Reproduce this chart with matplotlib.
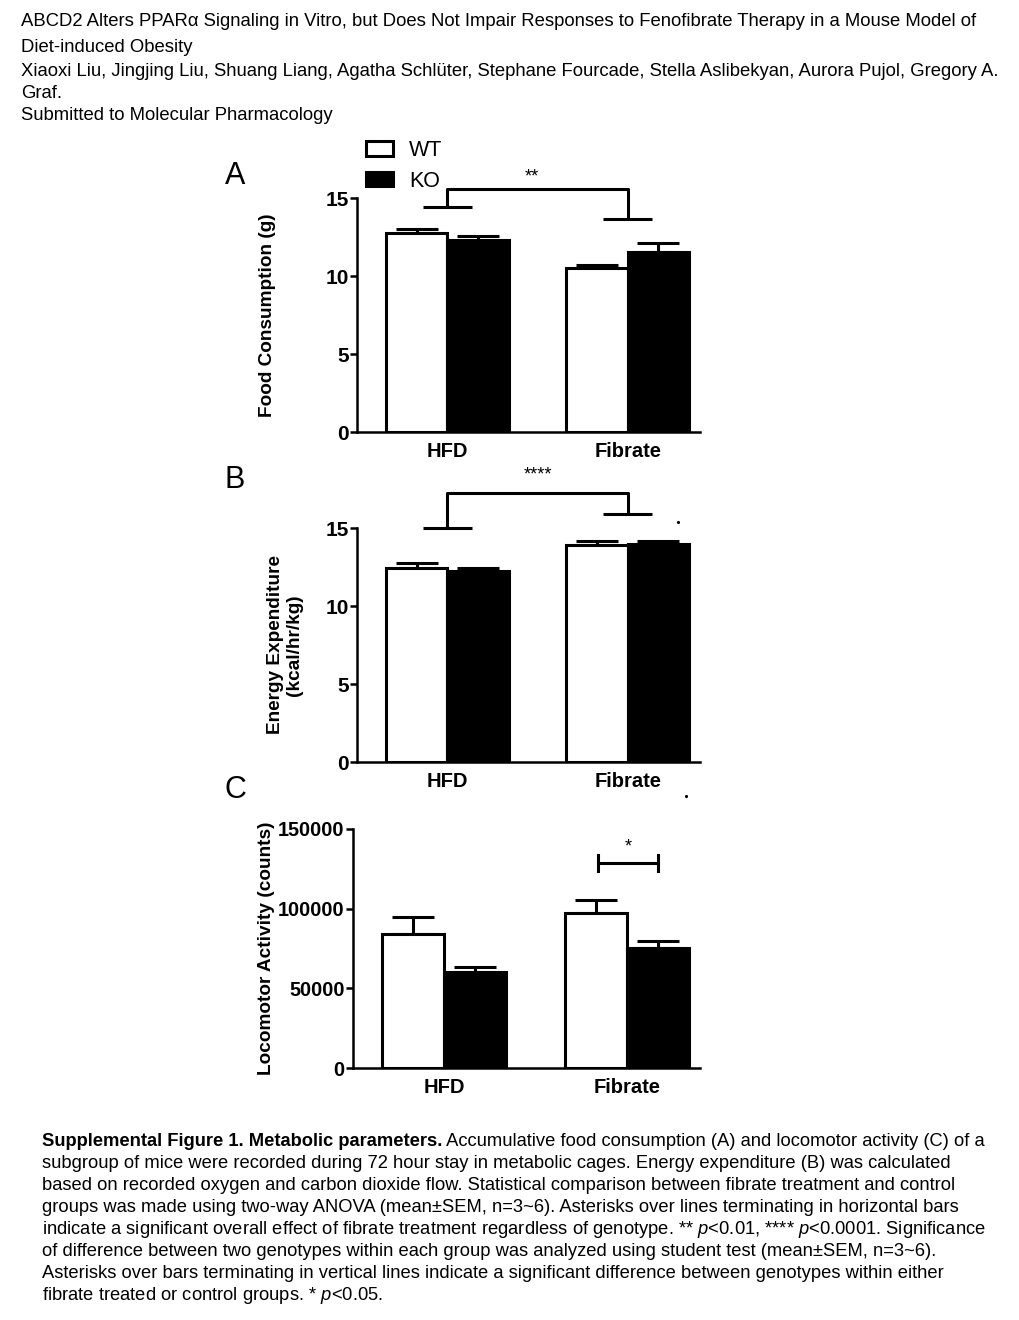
import matplotlib
matplotlib.use('Agg')
import matplotlib.pyplot as plt
import numpy as np
from matplotlib.patches import Patch

plt.rcParams['font.family'] = ['Liberation Sans', 'DejaVu Sans']
plt.rcParams['mathtext.fontset'] = 'custom'
plt.rcParams['mathtext.rm'] = 'Liberation Sans'
plt.rcParams['mathtext.it'] = 'Liberation Sans:italic'
plt.rcParams['mathtext.bf'] = 'Liberation Sans:bold'

# data
groups = ['HFD', 'Fibrate']
food_wt = [12.75, 10.5]
food_wt_err = [0.25, 0.22]
food_ko = [12.3, 11.55]
food_ko_err = [0.27, 0.55]
energy_wt = [12.45, 13.9]
energy_wt_err = [0.3, 0.25]
energy_ko = [12.25, 13.95]
energy_ko_err = [0.2, 0.2]
loco_wt = [84000, 97500]
loco_wt_err = [10500, 8000]
loco_ko = [60500, 75300]
loco_ko_err = [3000, 4500]

W, H = 1020, 1320
fig = plt.figure(figsize=(W / 100, H / 100), dpi=100)


def fx(x):
    return x / W


def fy(y):
    return 1 - y / H


def axes_px(left, right, top, bottom):
    return fig.add_axes([fx(left), fy(bottom), (right - left) / W, (bottom - top) / H])


header = ["ABCD2 Alters PPAR\u03b1 Signaling in Vitro, but Does Not Impair Responses to Fenofibrate Therapy in a Mouse Model of",
          "Diet-induced Obesity",
          "Xiaoxi Liu, Jingjing Liu, Shuang Liang, Agatha Schl\u00fcter, Stephane Fourcade, Stella Aslibekyan, Aurora Pujol, Gregory A.",
          "Graf.",
          "Submitted to Molecular Pharmacology"]
header_y = [21, 48, 71, 94, 116]
for t, y in zip(header, header_y):
    fig.text(fx(21), fy(y), t, fontsize=13.3, va='center', ha='left')

cap_fs = 13.25
cap_bold = "Supplemental Figure 1. Metabolic parameters."
caption = [" Accumulative food consumption (A) and locomotor activity (C) of a",
           "subgroup of mice were recorded during 72 hour stay in metabolic cages. Energy expenditure (B) was calculated",
           "based on recorded oxygen and carbon dioxide flow. Statistical comparison between fibrate treatment and control",
           "groups was made using two-way ANOVA (mean\u00b1SEM, n=3~6). Asterisks over lines terminating in horizontal bars",
           r"indicate a significant overall effect of fibrate treatment regardless of genotype. ** $\it{p}$<0.01, **** $\it{p}$<0.0001. Significance",
           "of difference between two genotypes within each group was analyzed using student test (mean\u00b1SEM, n=3~6).",
           "Asterisks over bars terminating in vertical lines indicate a significant difference between genotypes within either",
           r"fibrate treated or control groups. * $\it{p}$<0.05."]
tb = fig.text(fx(42), fy(1142), cap_bold, fontsize=cap_fs, fontweight='bold', va='center', ha='left')
bb = tb.get_window_extent(renderer=fig.canvas.get_renderer())
fig.text(bb.x1 / W, fy(1142), caption[0], fontsize=cap_fs, va='center', ha='left')
for i, t in enumerate(caption[1:], start=1):
    fig.text(fx(42), fy(1142 + 22 * i), t, fontsize=cap_fs, va='center', ha='left')

x = np.arange(len(groups))
w = 0.34
lw = 2.2


def panel(ax, wt, wt_err, ko, ko_err, ymax, yticks, ylabel, label_x, tick_fs):
    ax.bar(x - w / 2, wt, w, color='white', edgecolor='black', linewidth=lw, zorder=3)
    ax.bar(x + w / 2, ko, w, color='black', edgecolor='black', linewidth=lw, zorder=3)
    ax.errorbar(x - w / 2, wt, yerr=[np.zeros(2), wt_err], fmt='none', ecolor='black',
                elinewidth=lw, capsize=15, capthick=lw, zorder=2)
    ax.errorbar(x + w / 2, ko, yerr=[np.zeros(2), ko_err], fmt='none', ecolor='black',
                elinewidth=lw, capsize=15, capthick=lw, zorder=2)
    ax.set_xlim(-0.5, 1.4)
    ax.set_ylim(0, ymax)
    ax.set_yticks(yticks)
    ax.set_xticks(x)
    ax.set_xticklabels(groups, fontsize=14.5, fontweight='bold')
    for lab in ax.get_yticklabels():
        lab.set_fontweight('bold')
        lab.set_fontsize(tick_fs)
    ax.tick_params(axis='y', direction='out', length=5, width=1.8, pad=1)
    ax.tick_params(axis='x', length=0, pad=7)
    for s in ['top', 'right']:
        ax.spines[s].set_visible(False)
    for s in ['left', 'bottom']:
        ax.spines[s].set_linewidth(1.8)
    ax.set_ylabel(ylabel, fontsize=13.7, fontweight='bold')
    ax.yaxis.set_label_coords(label_x, 0.5)
    ax.patch.set_visible(False)


def bracket(ax, x0, x1, ytop, y0, y1, hw, star, star_x, star_y):
    kw = dict(color='black', lw=lw, clip_on=False, solid_capstyle='butt')
    ax.plot([x0, x0, x1, x1], [y0, ytop, ytop, y1], **kw)
    ax.plot([x0 - hw, x0 + hw], [y0, y0], **kw)
    ax.plot([x1 - hw, x1 + hw], [y1, y1], **kw)
    ax.text(star_x, star_y, star, ha='center', va='center', fontsize=13, clip_on=False)


# A
axA = axes_px(357, 700, 198, 432)
panel(axA, food_wt, food_wt_err, food_ko, food_ko_err, 15, [0, 5, 10, 15],
      'Food Consumption (g)', -0.236, 15)
bracket(axA, 0, 1, 15.6, 14.4, 13.65, 0.135, '**', 0.47, 16.35)
fig.text(fx(235), fy(176), 'A', fontsize=22, ha='center', va='center')

leg = axA.legend(handles=[Patch(facecolor='white', edgecolor='black', linewidth=lw, label='WT'),
                          Patch(facecolor='black', edgecolor='black', linewidth=lw, label='KO')],
                 loc='upper left', bbox_to_anchor=(fx(366), fy(140)), bbox_transform=fig.transFigure,
                 frameon=False, fontsize=15.5, handlelength=1.25, handleheight=0.65,
                 handletextpad=0.75, labelspacing=0.45, borderpad=0, borderaxespad=0)

# B
axB = axes_px(357, 700, 528, 762)
panel(axB, energy_wt, energy_wt_err, energy_ko, energy_ko_err, 15, [0, 5, 10, 15],
      'Energy Expenditure\n(kcal/hr/kg)', -0.157, 15)
bracket(axB, 0, 1, 17.25, 15.0, 15.9, 0.135, '****', 0.5, 18.4)
axB.plot([1.278, 1.32], [15.38, -2.18], 'k.', markersize=2.5, clip_on=False)
fig.text(fx(235), fy(480), 'B', fontsize=22, ha='center', va='center')

# C
axC = axes_px(353, 700, 829, 1068)
panel(axC, loco_wt, loco_wt_err, loco_ko, loco_ko_err, 150000, [0, 50000, 100000, 150000],
      'Locomotor Activity (counts)', -0.225, 14.3)
kw = dict(color='black', lw=lw, clip_on=False)
axC.plot([0.843, 1.172], [128700, 128700], **kw)
axC.plot([0.843] * 2, [123500, 133500], **kw)
axC.plot([1.172] * 2, [123500, 133500], **kw)
axC.text(1.005, 139000, '*', ha='center', va='center', fontsize=13)
fig.text(fx(235), fy(790), 'C', fontsize=22, ha='center', va='center')

fig.savefig('out.png', dpi=100)
